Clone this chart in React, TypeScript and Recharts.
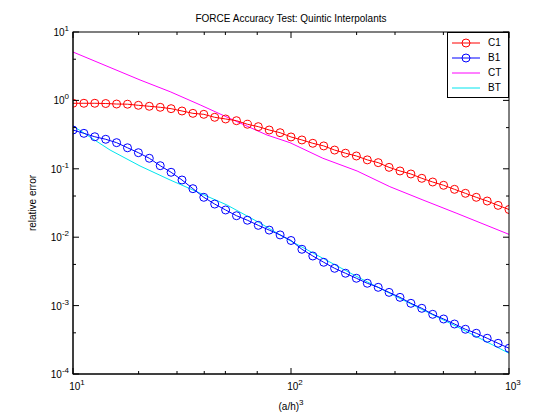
import { Line, LineChart, XAxis, YAxis } from 'recharts'

const markerX = [
  10, 11.22, 12.59, 14.13, 15.85, 17.78, 19.95, 22.39, 25.12, 28.18, 31.62, 35.48, 39.81, 44.67,
  50.12, 56.23, 63.1, 70.79, 79.43, 89.13, 100, 112.2, 125.9, 141.3, 158.5, 177.8, 199.5, 223.9,
  251.2, 281.8, 316.2, 354.8, 398.1, 446.7, 501.2, 562.3, 631, 707.9, 794.3, 891.3, 1000,
]
const c1Values = [
  0.908, 0.908, 0.908, 0.9, 0.885, 0.88, 0.848, 0.82, 0.793, 0.757, 0.7, 0.647, 0.626, 0.566, 0.535,
  0.505, 0.448, 0.413, 0.369, 0.337, 0.292, 0.264, 0.236, 0.216, 0.188, 0.169, 0.154, 0.135, 0.123,
  0.105, 0.093, 0.084, 0.0726, 0.0641, 0.0574, 0.0501, 0.0438, 0.0383, 0.0338, 0.0292, 0.0254,
]
const b1Values = [
  0.369, 0.33, 0.294, 0.27, 0.241, 0.203, 0.172, 0.1425, 0.111, 0.0889, 0.0686, 0.0512, 0.0383,
  0.0305, 0.025, 0.0206, 0.0177, 0.0149, 0.0127, 0.0108, 0.00895, 0.00666, 0.00531, 0.0043, 0.00351,
  0.00297, 0.00251, 0.00212, 0.00185, 0.00156, 0.00132, 0.00108, 0.000913, 0.000746, 0.000637,
  0.000538, 0.000451, 0.000394, 0.000333, 0.000281, 0.000238,
]
const ctX = [10, 20.3, 27.9, 38.3, 56.5, 77.6, 98.9, 140, 201, 284, 403, 577, 1000]
const ctValues = [5.1, 1.99, 1.34, 0.86, 0.489, 0.312, 0.241, 0.1426, 0.0929, 0.0548, 0.035, 0.0223, 0.011]
const btX = [10, 14.8, 20.3, 27.9, 35.5, 50.8, 72.1, 95.9, 140, 201, 284, 403, 577, 1000]
const btValues = [
  0.423, 0.188, 0.11, 0.0686, 0.049, 0.0296, 0.0161, 0.00942, 0.00492, 0.00265, 0.00151, 0.000863,
  0.000492, 0.000201,
]

const xTicks = [10, 20, 30, 40, 50, 60, 70, 80, 90, 100, 200, 300, 400, 500, 600, 700, 800, 900, 1000]
const yDecades = [-4, -3, -2, -1, 0, 1]

const yTicks: number[] = []
yDecades.forEach((d) => {
  for (let m = 1; m <= 9; m++) {
    if (d === 1 && m > 1) break
    yTicks.push(m * Math.pow(10, d))
  }
})

const c1Data = markerX.map((x, i) => ({ x, y: c1Values[i] }))
const b1Data = markerX.map((x, i) => ({ x, y: b1Values[i] }))
const ctData = ctX.map((x, i) => ({ x, y: ctValues[i] }))
const btData = btX.map((x, i) => ({ x, y: btValues[i] }))

const font = '"Liberation Sans", Arial, sans-serif'
const PLOT_TOP = 32
const PLOT_BOTTOM = 374
const PLOT_LEFT = 73
const PLOT_RIGHT = 509

function isMajor(v: number) {
  const l = Math.log10(v)
  return Math.abs(l - Math.round(l)) < 1e-6
}

function Pow({ x, y, exp, anchor }: { x: number; y: number; exp: number; anchor: string }) {
  return (
    <text x={x} y={y} fontSize={10} fontFamily={font} textAnchor={anchor} fill="#000">
      10<tspan dy={-5} fontSize={8}>{exp}</tspan>
    </text>
  )
}

function BottomTick(props: any) {
  const { x, payload } = props
  const major = isMajor(payload.value)
  const len = major ? 6 : 3
  return (
    <g>
      <line x1={x} x2={x} y1={PLOT_BOTTOM} y2={PLOT_BOTTOM - len} stroke="#000" />
      <line x1={x} x2={x} y1={PLOT_TOP} y2={PLOT_TOP + len} stroke="#000" />
      {major && <Pow x={x + 4} y={PLOT_BOTTOM + 16} exp={Math.round(Math.log10(payload.value))} anchor="middle" />}
    </g>
  )
}

function LeftTick(props: any) {
  const { y, payload } = props
  const major = isMajor(payload.value)
  const len = major ? 6 : 3
  return (
    <g>
      <line x1={PLOT_LEFT} x2={PLOT_LEFT + len} y1={y} y2={y} stroke="#000" />
      <line x1={PLOT_RIGHT} x2={PLOT_RIGHT - len} y1={y} y2={y} stroke="#000" />
      {major && <Pow x={PLOT_LEFT - 4} y={y + 4} exp={Math.round(Math.log10(payload.value))} anchor="end" />}
    </g>
  )
}

const legendItems = [
  { name: 'C1', color: '#ff0000', marker: true },
  { name: 'B1', color: '#0000ff', marker: true },
  { name: 'CT', color: '#ff00ff', marker: false },
  { name: 'BT', color: '#00e5ee', marker: false },
]

function LegendBox() {
  return (
    <div
      style={{
        position: 'absolute',
        top: PLOT_TOP,
        left: 447,
        width: 60,
        background: '#fff',
        border: '1px solid #000',
        padding: '2px 0',
        fontFamily: font,
        fontSize: 10,
      }}
    >
      {legendItems.map((it) => (
        <div key={it.name} style={{ display: 'flex', alignItems: 'center', height: 15 }}>
          <svg width={34} height={12}>
            <line x1={4} x2={32} y1={6} y2={6} stroke={it.color} />
            {it.marker && <circle cx={18} cy={6} r={4} fill="none" stroke={it.color} />}
          </svg>
          <span style={{ marginLeft: 6 }}>{it.name}</span>
        </div>
      ))}
    </div>
  )
}

export default function App() {
  return (
    <div style={{ position: 'absolute', left: 0, top: 0, width: 560, height: 420, background: '#fff' }}>
      <LineChart width={560} height={420} margin={{ top: 32, right: 51, bottom: 16, left: 13 }}>
        <XAxis
          dataKey="x"
          type="number"
          scale="log"
          domain={[10, 1000]}
          ticks={xTicks}
          tick={<BottomTick />}
          tickLine={false}
          stroke="#000"
          height={30}
          allowDataOverflow
        />
        <YAxis
          type="number"
          scale="log"
          domain={[0.0001, 10]}
          ticks={yTicks}
          tick={<LeftTick />}
          tickLine={false}
          stroke="#000"
          width={60}
          allowDataOverflow
        />
        <Line data={ctData} dataKey="y" stroke="#ff00ff" dot={false} isAnimationActive={false} />
        <Line data={btData} dataKey="y" stroke="#00e5ee" dot={false} isAnimationActive={false} />
        <Line
          data={c1Data}
          dataKey="y"
          stroke="#ff0000"
          dot={{ r: 4, fill: 'none', stroke: '#ff0000', strokeWidth: 1 }}
          isAnimationActive={false}
        />
        <Line
          data={b1Data}
          dataKey="y"
          stroke="#0000ff"
          dot={{ r: 4, fill: 'none', stroke: '#0000ff', strokeWidth: 1 }}
          isAnimationActive={false}
        />
      </LineChart>
      <svg width={560} height={420} style={{ position: 'absolute', left: 0, top: 0, pointerEvents: 'none' }}>
        <rect x={PLOT_LEFT} y={PLOT_TOP} width={PLOT_RIGHT - PLOT_LEFT} height={PLOT_BOTTOM - PLOT_TOP} fill="none" stroke="#000" />
        <text x={291} y={22} textAnchor="middle" fontSize={10} fontFamily={font}>
          FORCE Accuracy Test: Quintic Interpolants
        </text>
        <text x={291} y={410} textAnchor="middle" fontSize={10} fontFamily={font}>
          (a/h)<tspan dy={-5} fontSize={8}>3</tspan>
        </text>
        <text x={36} y={203} textAnchor="middle" fontSize={10} fontFamily={font} transform="rotate(-90 36 203)">
          relative error
        </text>
      </svg>
      <LegendBox />
    </div>
  )
}
